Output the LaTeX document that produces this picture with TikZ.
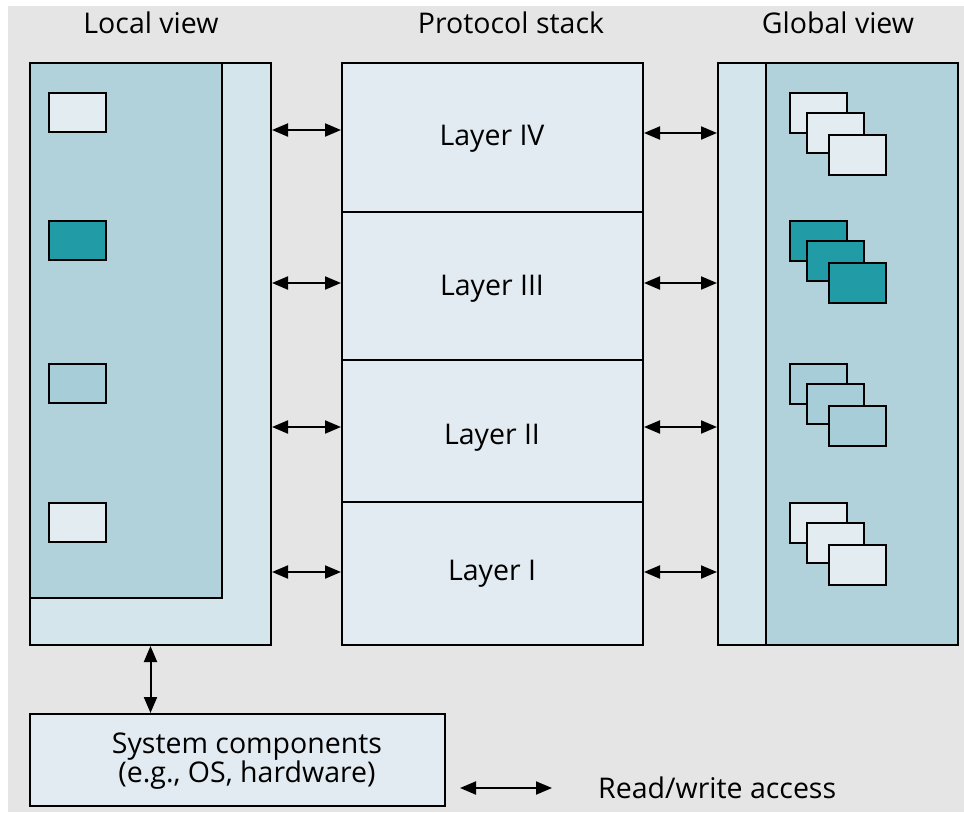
\documentclass[tikz,border=0pt]{standalone}
\usepackage{fontspec}
\setmainfont{Open Sans}
\usetikzlibrary{arrows.meta}
\definecolor{bggray}{HTML}{E5E5E5}
\definecolor{lightbg}{HTML}{D5E5EC}
\definecolor{darkbg}{HTML}{B1D1DB}
\definecolor{layerbg}{HTML}{E2EBF1}
\definecolor{smalllight}{HTML}{E3ECF1}
\definecolor{tealc}{HTML}{219CA6}
\definecolor{midc}{HTML}{A6CDD8}
\tikzset{
  box/.style={draw=black,line width=2pt,inner sep=0pt,outer sep=0pt,anchor=north west},
  sbox/.style={box,minimum width=57pt,minimum height=39pt},
  rw/.style={line width=2pt,{Triangle[length=16pt,width=13pt]}-{Triangle[length=16pt,width=13pt]},shorten <=1pt,shorten >=1pt},
  lbl/.style={font=\fontsize{28.5}{30}\selectfont,inner sep=0pt,text=black}
}
\begin{document}
\begin{tikzpicture}[x=1pt,y=-1pt]
\fill[white] (0,0) rectangle (964,812);
\fill[bggray] (8,6) rectangle (964,812);
\useasboundingbox (0,0) rectangle (964,812);
% titles
\node[lbl] (tlocal) at (151,23) {Local view};
\node[lbl] (tstack) at (511,23) {Protocol stack};
\node[lbl] (tglobal) at (838,23) {Global view};
% local view
\node[box,fill=lightbg,minimum width=241pt,minimum height=582pt] (lback) at (30,63) {};
\node[box,fill=darkbg,minimum width=192pt,minimum height=535pt] (lfront) at (30,63) {};
\node[sbox,fill=smalllight] (ls1) at (49,93) {};
\node[sbox,fill=tealc] (ls2) at (49,221) {};
\node[sbox,fill=midc] (ls3) at (49,364) {};
\node[sbox,fill=smalllight] (ls4) at (49,503) {};
% protocol stack
\node[box,fill=layerbg,minimum width=301pt,minimum height=149pt] (l4) at (342,63) {};
\node[box,fill=layerbg,minimum width=301pt,minimum height=148pt] (l3) at (342,212) {};
\node[box,fill=layerbg,minimum width=301pt,minimum height=142pt] (l2) at (342,360) {};
\node[box,fill=layerbg,minimum width=301pt,minimum height=143pt] (l1) at (342,502) {};
\node[lbl] (l4t) at (492,139) {Layer IV};
\node[lbl] (l3t) at (492,289) {Layer III};
\node[lbl] (l2t) at (492,438) {Layer II};
\node[lbl] (l1t) at (492,574) {Layer I};
% global view
\node[box,fill=lightbg,minimum width=240pt,minimum height=582pt] (gback) at (718,63) {};
\node[box,fill=darkbg,minimum width=192pt,minimum height=582pt] (gfront) at (766,63) {};
\foreach \y/\c [count=\i] in {93/smalllight,221/tealc,364/midc,503/smalllight}{
  \node[box,fill=\c,minimum width=57pt,minimum height=40pt] (g\i a) at (790,\y) {};
  \node[box,fill=\c,minimum width=57pt,minimum height=40pt] (g\i b) at (807,\y+20) {};
  \node[box,fill=\c,minimum width=57pt,minimum height=40pt] (g\i c) at (829,\y+42) {};
}
% system components
\node[box,fill=layerbg,minimum width=415pt,minimum height=92pt] (sys) at (30,714) {};
\node[lbl,align=center,font=\fontsize{28.5}{27}\selectfont] (syst) at (247,761) {System components\\(e.g., OS, hardware)};
% arrows
\draw[rw] ([yshift=7.5pt]l4.west -| lback.east) -- ([yshift=7.5pt]l4.west);
\draw[rw] ([yshift=3pt]l3.west -| lback.east) -- ([yshift=3pt]l3.west);
\draw[rw] ([yshift=4pt]l2.west -| lback.east) -- ([yshift=4pt]l2.west);
\draw[rw] ([yshift=1.5pt]l1.west -| lback.east) -- ([yshift=1.5pt]l1.west);
\draw[rw] ([yshift=4.5pt]l4.east) -- ([yshift=4.5pt]l4.east -| gback.west);
\draw[rw] ([yshift=3pt]l3.east) -- ([yshift=3pt]l3.east -| gback.west);
\draw[rw] ([yshift=4pt]l2.east) -- ([yshift=4pt]l2.east -| gback.west);
\draw[rw] ([yshift=1.5pt]l1.east) -- ([yshift=1.5pt]l1.east -| gback.west);
\draw[rw] (lback.south) -- (lback.south |- sys.north);
% legend
\coordinate (lega) at (459,788);
\coordinate (legb) at (553,788);
\draw[rw] (lega) -- (legb);
\node[lbl,anchor=west] (legt) at (598,788) {Read/write access};
\end{tikzpicture}
\end{document}
